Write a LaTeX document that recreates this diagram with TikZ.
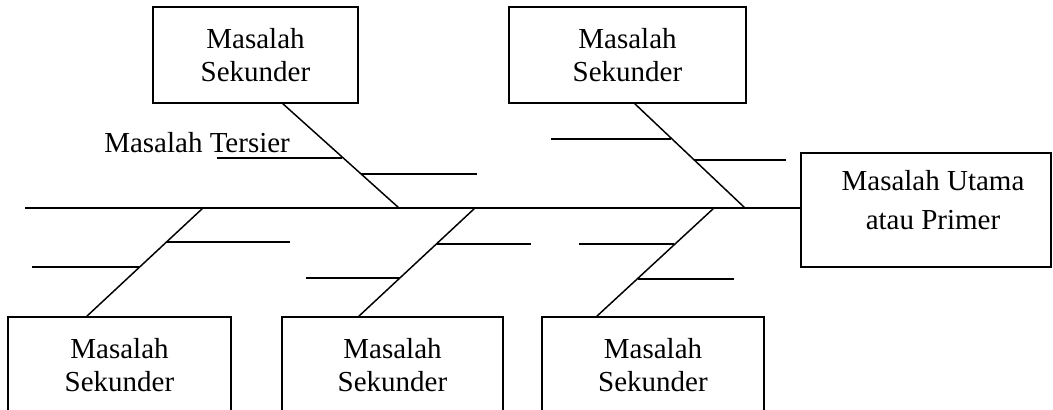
\documentclass[tikz,border=0pt]{standalone}
\usepackage{fontspec}
\setmainfont{Liberation Serif}
\begin{document}
\begin{tikzpicture}[x=0.75pt,y=-0.75pt,
  ln/.style={line width=1.1pt},
  txt/.style={font=\fontsize{21.75}{24.75}\selectfont},
  box/.style={draw, line width=1.1pt, align=center, inner sep=0pt, txt},
  ptxt/.style={align=center, inner sep=0pt, font=\fontsize{21.75}{29}\selectfont}]
\useasboundingbox (0,0) rectangle (1053,410);

% boxes
\node[box, minimum width=153.75pt, minimum height=72pt] (T1) at (255.5,55) {Masalah\\Sekunder};
\node[box, minimum width=177.75pt, minimum height=72pt] (T2) at (627.5,55) {Masalah\\Sekunder};
\node[box, minimum width=167.25pt, minimum height=72pt] (B1) at (119.5,365) {Masalah\\Sekunder};
\node[box, minimum width=165.75pt, minimum height=72pt] (B2) at (392.5,365) {Masalah\\Sekunder};
\node[box, minimum width=166.5pt, minimum height=72pt] (B3) at (653,365) {Masalah\\Sekunder};
\node[draw, line width=1.1pt, minimum width=187.5pt, minimum height=85.5pt, inner sep=0pt] (P) at (926,210) {};
\node[ptxt] (Ptext) at (933,200) {Masalah Utama\\atau Primer};

\node[txt, anchor=base west, inner sep=0pt] (Ter) at (104,152) {Masalah Tersier};

% spine
\coordinate (S) at (25,208);
\draw[ln] (S) -- (S -| P.west);

% top-left bone
\coordinate (a1) at (282,103); \coordinate (a2) at (399,208);
\draw[ln] (a1) -- (a2);
\coordinate (a3) at (217,158); \coordinate (a4) at (342,158);
\draw[ln] (a3) -- (a4);
\coordinate (a5) at (361,174); \coordinate (a6) at (477,174);
\draw[ln] (a5) -- (a6);

% top-right bone
\coordinate (b1) at (634,103); \coordinate (b2) at (745,208);
\draw[ln] (b1) -- (b2);
\coordinate (b3) at (551,139); \coordinate (b4) at (671,139);
\draw[ln] (b3) -- (b4);
\coordinate (b5) at (694,160); \coordinate (b6) at (786,160);
\draw[ln] (b5) -- (b6);

% bottom-left bone
\coordinate (c1) at (203,208); \coordinate (c2) at (86,317);
\draw[ln] (c1) -- (c2);
\coordinate (c3) at (167,242); \coordinate (c4) at (290,242);
\draw[ln] (c3) -- (c4);
\coordinate (c5) at (32,267); \coordinate (c6) at (139,267);
\draw[ln] (c5) -- (c6);

% bottom-middle bone
\coordinate (d1) at (475,208); \coordinate (d2) at (358,317);
\draw[ln] (d1) -- (d2);
\coordinate (d3) at (437,244); \coordinate (d4) at (531,244);
\draw[ln] (d3) -- (d4);
\coordinate (d5) at (306,278); \coordinate (d6) at (400,278);
\draw[ln] (d5) -- (d6);

% bottom-right bone
\coordinate (e1) at (714,208); \coordinate (e2) at (596,317);
\draw[ln] (e1) -- (e2);
\coordinate (e3) at (579,244); \coordinate (e4) at (674,244);
\draw[ln] (e3) -- (e4);
\coordinate (e5) at (638,279); \coordinate (e6) at (734,279);
\draw[ln] (e5) -- (e6);
\end{tikzpicture}
\end{document}
